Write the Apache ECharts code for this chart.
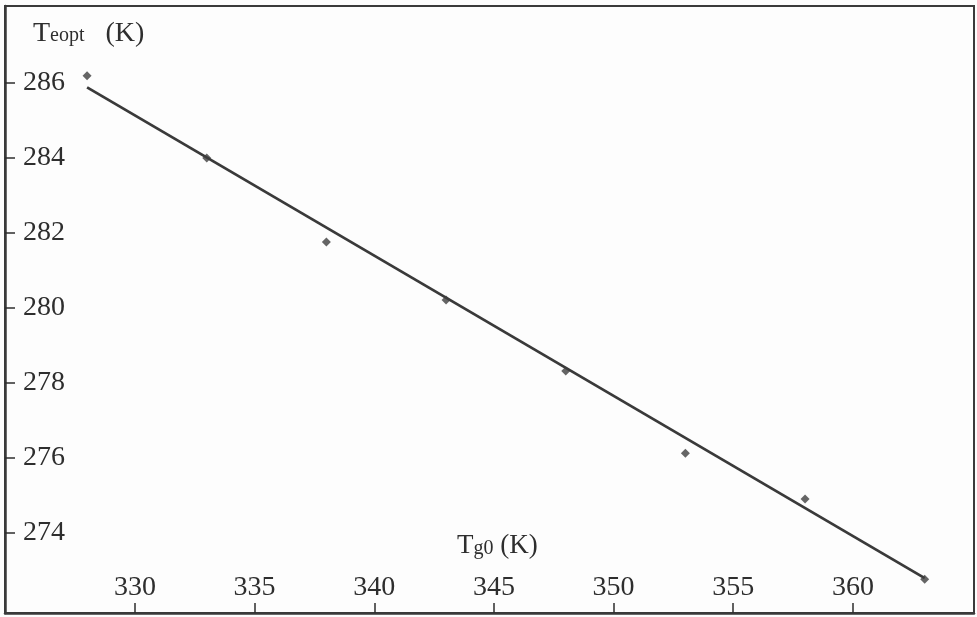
<!DOCTYPE html>
<html>
<head>
<meta charset="utf-8">
<title>Teopt vs Tg0</title>
<script src="https://cdn.jsdelivr.net/npm/echarts@6.0.0/dist/echarts.min.js"></script>
<style>
  html, body { margin: 0; padding: 0; background: #fdfdfd; }
  #chart { width: 977px; height: 617px; }
</style>
</head>
<body>
<div id="chart"></div>
<script>
// measured points, Tg0 (K) against Teopt (K)
var tg0 = [328, 333, 338, 343, 348, 353, 358, 363];
var teopt = [286.19, 284.0, 281.76, 280.21, 278.32, 276.13, 274.91, 272.77];

var fitX = [328, 363];
var fitY = [285.88, 272.8];

// tick labels
var xTicks = [330, 335, 340, 345, 350, 355, 360];
var yTicks = [274, 276, 278, 280, 282, 284, 286];

var ink = '#2e2e2e';
var serif = '"Liberation Serif", "DejaVu Serif", serif';

var pts = tg0.map(function (v, i) { return [v, teopt[i]]; });
var fit = fitX.map(function (v, i) { return [v, fitY[i]]; });

var myChart = echarts.init(document.getElementById('chart'));

myChart.setOption({
    backgroundColor: '#fdfdfd',
    animation: false,
    grid: {
        left: 5, right: 3, top: 6, bottom: 4,
        show: true,
        borderColor: '#3a3a3a',
        borderWidth: 2
    },
    xAxis: {
        type: 'value',
        min: 324.57,
        max: 365.06,
        splitLine: { show: false },
        axisLine: { show: true, onZero: false, lineStyle: { color: '#3a3a3a', width: 2.5 } },
        axisTick: { show: true, inside: true, length: 10, customValues: xTicks, lineStyle: { color: ink, width: 1.5 } },
        axisLabel: {
            inside: true, margin: 11, customValues: xTicks,
            color: ink, fontFamily: serif, fontSize: 28
        }
    },
    yAxis: {
        type: 'value',
        min: 271.87,
        max: 288.05,
        splitLine: { show: false },
        axisLine: { show: true, onZero: false, lineStyle: { color: '#3a3a3a', width: 2.5 } },
        axisTick: { show: true, inside: true, length: 10, customValues: yTicks, lineStyle: { color: ink, width: 1.5 } },
        axisLabel: {
            inside: true, margin: 18, customValues: yTicks,
            color: ink, fontFamily: serif, fontSize: 28
        }
    },
    graphic: [
        {
            type: 'text', left: 33, top: 20,
            style: {
                text: '{t|T}{s|eopt}{t|   (K)}',
                fill: ink,
                rich: {
                    t: { fontFamily: serif, fontSize: 28, fill: ink, verticalAlign: 'bottom' },
                    s: { fontFamily: serif, fontSize: 20, fill: ink, verticalAlign: 'bottom', padding: [0, 0, 2, 0] }
                }
            }
        },
        {
            type: 'text', left: 457, top: 532,
            style: {
                text: '{t|T}{s|g0}{t| (K)}',
                fill: ink,
                rich: {
                    t: { fontFamily: serif, fontSize: 27, fill: ink, verticalAlign: 'bottom' },
                    s: { fontFamily: serif, fontSize: 20, fill: ink, verticalAlign: 'bottom', padding: [0, 0, 0, 0] }
                }
            }
        }
    ],
    series: [
        {
            name: 'fit',
            type: 'line',
            data: fit,
            symbol: 'none',
            lineStyle: { color: '#3a3a3a', width: 2.8 },
            z: 2
        },
        {
            name: 'Teopt',
            type: 'scatter',
            data: pts,
            symbol: 'diamond',
            symbolSize: 9,
            itemStyle: { color: '#3e3e3e' },
            z: 3
        }
    ]
});
</script>
</body>
</html>
